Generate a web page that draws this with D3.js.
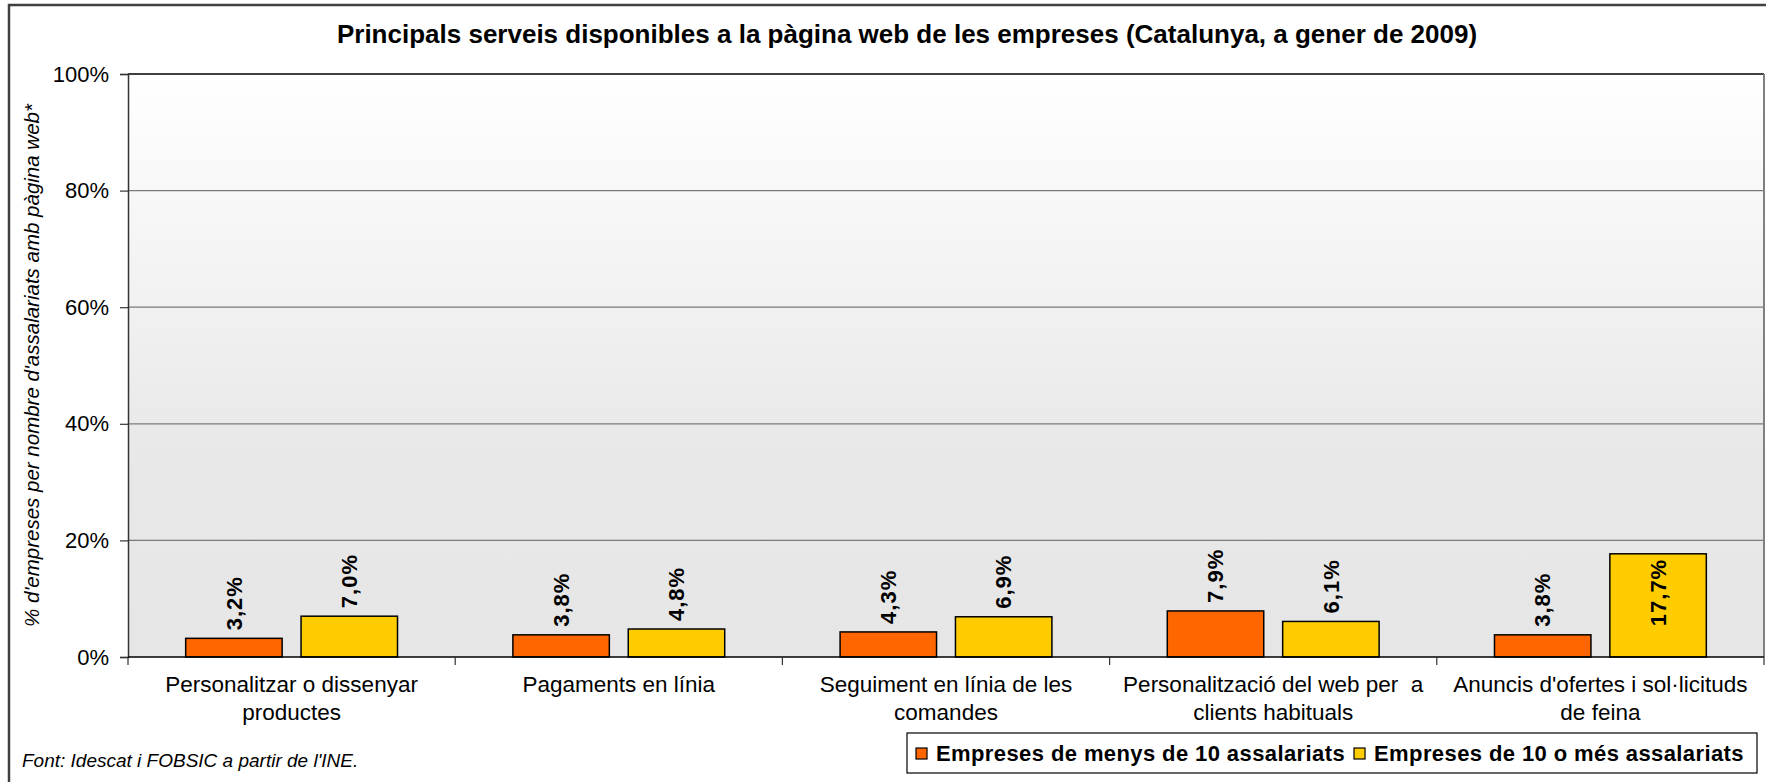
<!DOCTYPE html>
<html>
<head>
<meta charset="utf-8">
<script src="https://cdn.jsdelivr.net/npm/d3@7"></script>
<style>
  body { margin: 0; background: #fff; }
  text { font-family: "Liberation Sans", Arial, sans-serif; fill: #000; }
</style>
</head>
<body>
<svg id="chart" width="1766" height="782"></svg>
<script>
// data
let categories = ["Personalitzar o dissenyar productes", "Pagaments en línia",
                  "Seguiment en línia de les comandes", "Personalització del web per  a clients habituals",
                  "Anuncis d'ofertes i sol·licituds de feina"]
let catLines = [["Personalitzar o dissenyar", "productes"], ["Pagaments en línia"],
                ["Seguiment en línia de les", "comandes"], ["Personalització del web per  a", "clients habituals"],
                ["Anuncis d'ofertes i sol·licituds", "de feina"]]
let seriesNames = ["Empreses de menys de 10 assalariats", "Empreses de 10 o més assalariats"]
let menys10 = [3.2, 3.8, 4.3, 7.9, 3.8]
let mes10 = [7.0, 4.8, 6.9, 6.1, 17.7]
let yTicks = [0, 20, 40, 60, 80, 100]
let colors = ["#FF6600", "#FFCC00"]

let title = "Principals serveis disponibles a la pàgina web de les empreses (Catalunya, a gener de 2009)"
let yLabel = "% d'empreses per nombre d'assalariats amb pàgina web*"
let source = "Font: Idescat i FOBSIC a partir de l'INE."

let plot = {left: 128, right: 1764, top: 74, bottom: 657}
let svg = d3.select("#chart")

// outer frame (cut off at right and bottom)
svg.append("path").attr("d", "M9,782 V5 H1766").attr("fill", "none")
   .attr("stroke", "#404040").attr("stroke-width", 2.5)

let yScale = d3.scaleLinear().domain([0, 100]).range([plot.bottom, plot.top])
let x0 = d3.scaleBand().domain(categories).range([plot.left, plot.right]).padding(0)
let x1 = d3.scaleBand().domain(seriesNames).range([0, x0.bandwidth()])
           .paddingInner(0.164).paddingOuter(0.5)

// background gradient
let grad = svg.append("defs").append("linearGradient").attr("id", "bg")
              .attr("x1", 0).attr("y1", 0).attr("x2", 0).attr("y2", 1)
grad.append("stop").attr("offset", "0%").attr("stop-color", "#ffffff")
grad.append("stop").attr("offset", "65%").attr("stop-color", "#e8e8e8")
grad.append("stop").attr("offset", "100%").attr("stop-color", "#e6e6e6")

svg.append("rect").attr("x", plot.left).attr("y", plot.top)
   .attr("width", plot.right - plot.left).attr("height", plot.bottom - plot.top)
   .attr("fill", "url(#bg)")

// gridlines
svg.selectAll(".grid").data(yTicks.filter(d => d > 0 && d < 100)).enter()
   .append("line").attr("class", "grid")
   .attr("x1", plot.left).attr("x2", plot.right)
   .attr("y1", d => yScale(d)).attr("y2", d => yScale(d))
   .attr("stroke", "#7a7a7a").attr("stroke-width", 1.2)
svg.append("line").attr("x1", plot.left).attr("x2", plot.right)
   .attr("y1", yScale(100)).attr("y2", yScale(100)).attr("stroke", "#000").attr("stroke-width", 1.5)
svg.append("line").attr("x1", plot.right).attr("x2", plot.right)
   .attr("y1", plot.top).attr("y2", plot.bottom).attr("stroke", "#808080").attr("stroke-width", 2)

// bars
let data = categories.map((c, i) => ({cat: c, vals: [menys10[i], mes10[i]]}))
let groups = svg.selectAll(".cat").data(data).enter().append("g")
   .attr("transform", d => `translate(${x0(d.cat)},0)`)
groups.selectAll("rect").data(d => d.vals.map((v, j) => ({s: seriesNames[j], v: v, j: j}))).enter()
   .append("rect")
   .attr("x", d => x1(d.s)).attr("width", x1.bandwidth())
   .attr("y", d => yScale(d.v)).attr("height", d => yScale(0) - yScale(d.v))
   .attr("fill", d => colors[d.j]).attr("stroke", "#000").attr("stroke-width", 1.5)

// value labels
groups.selectAll(".val").data(d => d.vals.map((v, j) => ({s: seriesNames[j], v: v, j: j}))).enter()
   .append("text")
   .attr("transform", function (d) {
       let cx = x1(d.s) + x1.bandwidth() / 2
       let y = d.v > 15 ? yScale(d.v) + 5 : yScale(d.v) - 8
       return `translate(${cx},${y}) rotate(-90)`
   })
   .attr("text-anchor", d => d.v > 15 ? "end" : "start")
   .attr("dy", "0.35em")
   .style("font-size", "22px").style("font-weight", "bold").style("letter-spacing", "1px")
   .text(d => d3.format(".1f")(d.v).replace(".", ",") + "%")

// y axis
let yAxis = d3.axisLeft(yScale).tickValues(yTicks).tickSize(8).tickPadding(11)
              .tickFormat(d => d + "%")
let gy = svg.append("g").attr("transform", `translate(${plot.left},0)`).call(yAxis)
gy.select(".domain").attr("stroke", "#333").attr("stroke-width", 1.5)
gy.selectAll(".tick line").attr("stroke", "#333").attr("stroke-width", 1.2)
gy.selectAll(".tick text").style("font-size", "22px").attr("font-family", null)

// x axis line and category ticks
svg.append("line").attr("x1", plot.left).attr("x2", plot.right)
   .attr("y1", plot.bottom).attr("y2", plot.bottom).attr("stroke", "#000").attr("stroke-width", 1.5)
let bounds = categories.map(c => x0(c)).concat([plot.right])
svg.selectAll(".xtick").data(bounds).enter().append("line")
   .attr("x1", d => d).attr("x2", d => d)
   .attr("y1", plot.bottom).attr("y2", plot.bottom + 8)
   .attr("stroke", "#333").attr("stroke-width", 1.2)

// category labels
let catText = svg.selectAll(".catlab").data(catLines).enter().append("text")
   .attr("text-anchor", "middle")
   .attr("x", (d, i) => x0(categories[i]) + x0.bandwidth() / 2)
   .attr("y", 692)
   .style("font-size", "22.5px")
catText.selectAll("tspan").data(d => d).enter().append("tspan")
   .attr("x", function () { return d3.select(this.parentNode).attr("x") })
   .attr("dy", (d, i) => i === 0 ? 0 : 28)
   .style("white-space", "pre")
   .text(d => d)

// title
svg.append("text").attr("x", 907).attr("y", 43).attr("text-anchor", "middle")
   .style("font-size", "26px").style("font-weight", "bold").text(title)

// y label
svg.append("text").attr("transform", `translate(39,${(plot.top + plot.bottom) / 2}) rotate(-90)`)
   .attr("text-anchor", "middle").style("font-size", "20.5px").style("font-style", "italic")
   .text(yLabel)

// source note
svg.append("text").attr("x", 22).attr("y", 767)
   .style("font-size", "19px").style("font-style", "italic").text(source)

// legend
let lg = svg.append("g")
lg.append("rect").attr("x", 907).attr("y", 733).attr("width", 850).attr("height", 40)
  .attr("fill", "#fff").attr("stroke", "#000").attr("stroke-width", 1.2)
let lx = 916
seriesNames.forEach(function (name, i) {
    lg.append("rect").attr("x", lx).attr("y", 748).attr("width", 11).attr("height", 11)
      .attr("fill", colors[i]).attr("stroke", "#000").attr("stroke-width", 1.2)
    let t = lg.append("text").attr("x", lx + 20).attr("y", 761)
      .style("font-size", "22px").style("font-weight", "bold").style("letter-spacing", "0.4px")
      .text(name)
    lx = lx + 20 + t.node().getComputedTextLength() + 9
})
</script>
</body>
</html>
